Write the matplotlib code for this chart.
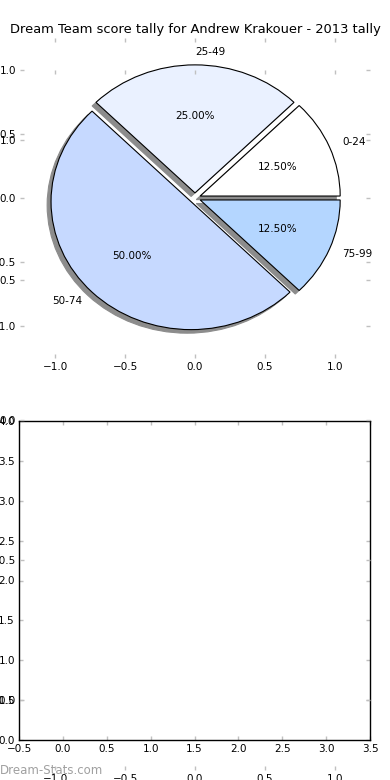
import numpy as np
import matplotlib.pyplot as plt

# score buckets and how many games fell into each
labels = ["0-24", "25-49", "50-74", "75-99"]
counts = [1, 2, 4, 1]
colors = ["#ffffff", "#eaf1ff", "#c6d9ff", "#b4d6ff"]
explode = [0.04, 0.04, 0.04, 0.04]

title = "Dream Team score tally for Andrew Krakouer - 2013 tally"
pie_ticks = [-1.0, -0.5, 0.0, 0.5, 1.0]
bar_xticks = [-0.5, 0.0, 0.5, 1.0, 1.5, 2.0, 2.5, 3.0, 3.5]
bar_yticks = [0.0, 0.5, 1.0, 1.5, 2.0, 2.5, 3.0, 3.5, 4.0]

W, H = 390, 780
fig = plt.figure(figsize=(W / 100, H / 100), dpi=100)


def box(l, t, r, b):
    # pixel box -> figure fraction rect
    return [l / W, 1 - b / H, (r - l) / W, (b - t) / H]


def style_ticks(ax):
    ax.tick_params(direction="in", length=3, width=1, color="#c0c0c0",
                   labelsize=7.5, top=True, right=True, pad=3)


# pie axes
ax1 = fig.add_axes(box(20, 38, 370, 358))
wedges, texts, autotexts = ax1.pie(
    counts, explode=explode, labels=labels, colors=colors,
    autopct="%1.2f%%", startangle=0, frame=True,
    shadow={"facecolor": "#8c8c8c", "edgecolor": "#8c8c8c", "alpha": 1.0},
    textprops={"fontsize": 7.5},
    wedgeprops={"edgecolor": "black", "linewidth": 0.8})
# old-style alignment: label straight up is left aligned
for t in texts:
    if abs(t.get_position()[0]) < 1e-6:
        t.set_ha("left")
ax1.set_aspect("auto")
ax1.set_xlim(-1.25, 1.25)
ax1.set_ylim(-1.25, 1.25)
ax1.set_xticks(pie_ticks)
ax1.set_yticks(pie_ticks)
ax1.set_frame_on(False)
style_ticks(ax1)

# empty bottom plot
ax2 = fig.add_axes(box(19, 421, 370, 740))
ax2.set_xlim(-0.5, 3.5)
ax2.set_ylim(0, 4)
ax2.set_xticks(bar_xticks)
ax2.set_yticks(bar_yticks)
for s in ax2.spines.values():
    s.set_color("black")
    s.set_linewidth(1)
style_ticks(ax2)

# leftover empty pie axes on top of everything
ax3 = fig.add_axes(box(20, 70, 370, 770))
ax3.set_xlim(-1.25, 1.25)
ax3.set_ylim(-1.25, 1.25)
ax3.set_xticks(pie_ticks)
ax3.set_yticks(pie_ticks)
ax3.set_frame_on(False)
style_ticks(ax3)

fig.text(0.5, 1 - 30 / H, title, ha="center", va="center", fontsize=9.35)
fig.text(0.0, 1 - 770 / H, "Dream-Stats.com", ha="left", va="center",
         fontsize=8.5, color="#a0a0a0")

fig.savefig("out.png", dpi=100)
